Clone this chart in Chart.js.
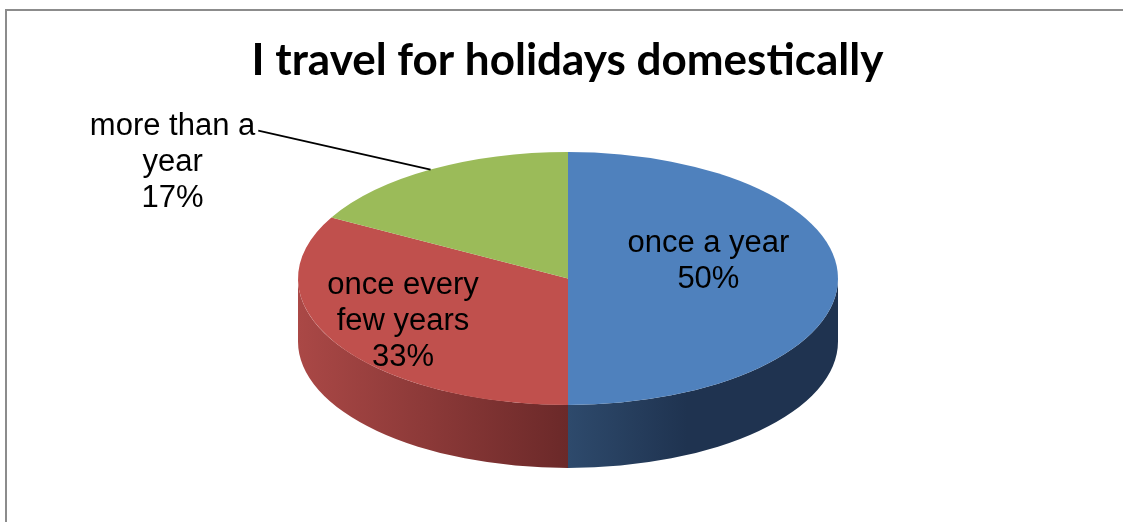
<!DOCTYPE html>
<html>
<head>
<meta charset="utf-8">
<script src="https://cdn.jsdelivr.net/npm/chart.js@4.4.0/dist/chart.umd.min.js"></script>
<style>
  html, body { margin: 0; padding: 0; background: #fff; }
  #wrap { width: 1123px; height: 522px; }
</style>
</head>
<body>
<div id="wrap"><canvas id="chart"></canvas></div>
<script>
// data
const categories = ['once a year', 'once every few years', 'more than a year'];
const shares = [50, 33, 17];
const labelLines = [['once a year', '50%'], ['once every', 'few years', '33%'], ['more than a', 'year', '17%']];

// look
const topColors = ['#4f81bd', '#c0504d', '#9bbb59'];
const sideStops = [
  [[0, '#3d5f8a'], [0.5, '#2e4a6c'], [0.72, '#1f3350'], [1, '#1f3350']],
  [[0, '#aa4846'], [0.5, '#6b2929'], [1, '#6b2929']],
  [[0, '#7d9645'], [1, '#5c7030']]
];
const ell = { cx: 568, cy: 278.5, rx: 270, ry: 126.5, depth: 63 };
const placement = [
  { f: 0.52, dy: -17 },
  { f: 0.71, dy: -3 },
  { f: 1.0, outside: true, dx: -258, dy: -7 }
];
const labelFont = '31px "Liberation Sans", Arial, sans-serif';
const lineH = 36;

const frame = {
  id: 'frame',
  beforeDraw(chart) {
    const ctx = chart.ctx;
    ctx.save();
    ctx.strokeStyle = '#8c8c8c';
    ctx.lineWidth = 2;
    ctx.strokeRect(6, 10, 2000, 2000);
    ctx.restore();
  }
};

const pie3d = {
  id: 'pie3d',
  beforeDatasetsDraw(chart) {
    const ctx = chart.ctx;
    const arcs = chart.getDatasetMeta(0).data;
    const { x, y, outerRadius: R } = arcs[0].getProps(['x', 'y', 'outerRadius'], true);
    const sx = ell.rx / R, sy = ell.ry / R;
    const D = ell.depth / sy;
    ctx.save();
    ctx.translate(ell.cx, ell.cy);
    ctx.scale(sx, sy);
    // side walls, only the front half (0..PI) shows
    arcs.forEach((arc, i) => {
      const { startAngle: a, endAngle: b } = arc.getProps(['startAngle', 'endAngle'], true);
      [-2 * Math.PI, 0, 2 * Math.PI].forEach(k => {
        const s = Math.max(a + k, 0), e = Math.min(b + k, Math.PI);
        if (e <= s) return;
        const g = ctx.createLinearGradient(-R, 0, R, 0);
        sideStops[i].forEach(st => g.addColorStop(st[0], st[1]));
        ctx.beginPath();
        ctx.arc(0, 0, R, s, e);
        ctx.arc(0, D, R, e, s, true);
        ctx.closePath();
        ctx.fillStyle = g;
        ctx.fill();
      });
    });
    ctx.translate(-x, -y);
  },
  afterDatasetsDraw(chart) {
    const ctx = chart.ctx;
    ctx.restore();
    const arcs = chart.getDatasetMeta(0).data;
    ctx.save();
    ctx.font = labelFont;
    ctx.fillStyle = '#000';
    ctx.textAlign = 'center';
    ctx.textBaseline = 'middle';
    arcs.forEach((arc, i) => {
      const { startAngle: a, endAngle: b } = arc.getProps(['startAngle', 'endAngle'], true);
      const m = (a + b) / 2, p = placement[i];
      const px = ell.cx + ell.rx * p.f * Math.cos(m);
      const py = ell.cy + ell.ry * p.f * Math.sin(m);
      const lines = labelLines[i];
      let bx = px, by = py + p.dy;
      if (p.outside) {
        bx = px + p.dx;
        const firstY = by - (lines.length - 1) / 2 * lineH;
        const w = ctx.measureText(lines[0]).width;
        ctx.beginPath();
        ctx.moveTo(bx + w / 2 + 3, firstY + 4);
        ctx.lineTo(px, py);
        ctx.strokeStyle = '#000';
        ctx.lineWidth = 1.6;
        ctx.stroke();
      }
      lines.forEach((t, j) => {
        ctx.fillText(t, bx, by + (j - (lines.length - 1) / 2) * lineH);
      });
    });
    ctx.restore();
  }
};

new Chart(document.getElementById('chart'), {
  type: 'pie',
  data: {
    labels: categories,
    datasets: [{ data: shares, backgroundColor: topColors, borderWidth: 0 }]
  },
  options: {
    responsive: true,
    maintainAspectRatio: false,
    animation: false,
    events: [],
    layout: { padding: { left: 12 } },
    plugins: {
      legend: { display: false },
      tooltip: { enabled: false },
      title: {
        display: true,
        text: 'I travel for holidays domestically',
        color: '#000',
        font: { family: 'Lato', weight: 'bold', size: 44 },
        padding: { top: 34, bottom: 10 }
      }
    }
  },
  plugins: [frame, pie3d]
});
</script>
</body>
</html>
